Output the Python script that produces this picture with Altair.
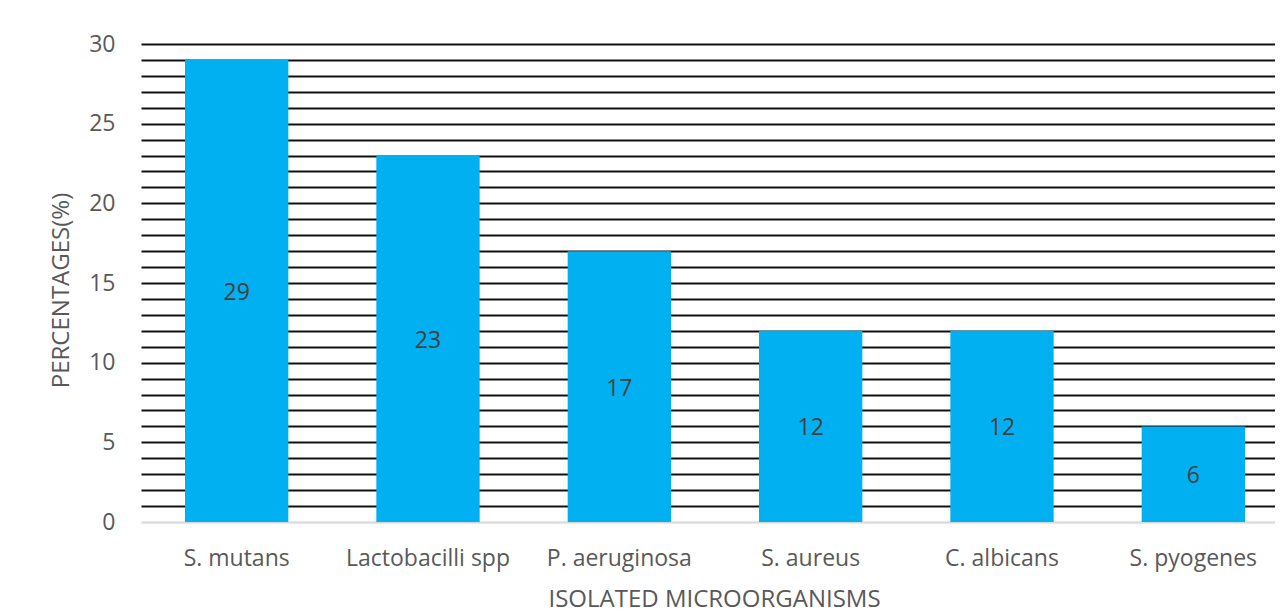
import altair as alt
import pandas as pd

organisms = ["S. mutans", "Lactobacilli spp", "P. aeruginosa", "S. aureus", "C. albicans", "S. pyogenes"]
percentages = [29, 23, 17, 12, 12, 6]
y_ticks = list(range(0, 31))

df = pd.DataFrame({"organism": organisms, "pct": percentages})
df["mid"] = df["pct"] / 2

FONT = "Open Sans"

x_enc = alt.X(
    "organism:N",
    sort=organisms,
    scale=alt.Scale(range=[0, 1148], paddingInner=0.46, paddingOuter=0.23),
    axis=alt.Axis(
        title="ISOLATED MICROORGANISMS",
        titleFont=FONT, titleFontSize=24, titleFontWeight="normal", titleColor="#595959",
        titleX=573, titleY=84, titleBaseline="alphabetic", titleAlign="center",
        labelFont=FONT, labelFontSize=23, labelColor="#595959", labelAngle=0,
        labelBaseline="alphabetic", labelPadding=43,
        ticks=False, grid=False, domain=True, domainColor="#d9d9d9", domainWidth=1.5,
    ),
)

y_axis = alt.Axis(
    title="PERCENTAGES(%)",
    titleFont=FONT, titleFontSize=24, titleFontWeight="normal", titleColor="#595959",
    titleX=-73, titleY=246, titleAngle=-90, titleBaseline="alphabetic", titleAlign="center",
    values=y_ticks,
    tickCount=len(y_ticks),
    labelOverlap=False,
    labelExpr="datum.value % 5 === 0 ? datum.label : ''",
    labelFont=FONT, labelFontSize=23, labelColor="#595959", labelPadding=26,
    ticks=False, domain=False, grid=True,
    gridColor=alt.condition("datum.value === 0", alt.value("#d9d9d9"), alt.value("#111111")),
    gridWidth=2,
)

bars = alt.Chart(df).mark_bar(color="#00B0F0").encode(
    x=x_enc,
    y=alt.Y("pct:Q", scale=alt.Scale(domain=[0, 30], nice=False), axis=y_axis),
)

labels = alt.Chart(df).mark_text(
    font=FONT, fontSize=23, color="#404040", baseline="middle", align="center", dy=2
).encode(
    x=alt.X("organism:N", sort=organisms),
    y=alt.Y("mid:Q"),
    text=alt.Text("pct:Q"),
)

chart = (
    alt.layer(bars, labels)
    .properties(
        width=1134,
        height=478,
        autosize=alt.AutoSizeParams(type="none"),
        padding={"left": 133, "top": 36, "right": 0, "bottom": 91},
        background="white",
    )
    .configure_view(stroke=None)
)

chart.save("out.html", embed_options={"renderer": "svg", "actions": False})
